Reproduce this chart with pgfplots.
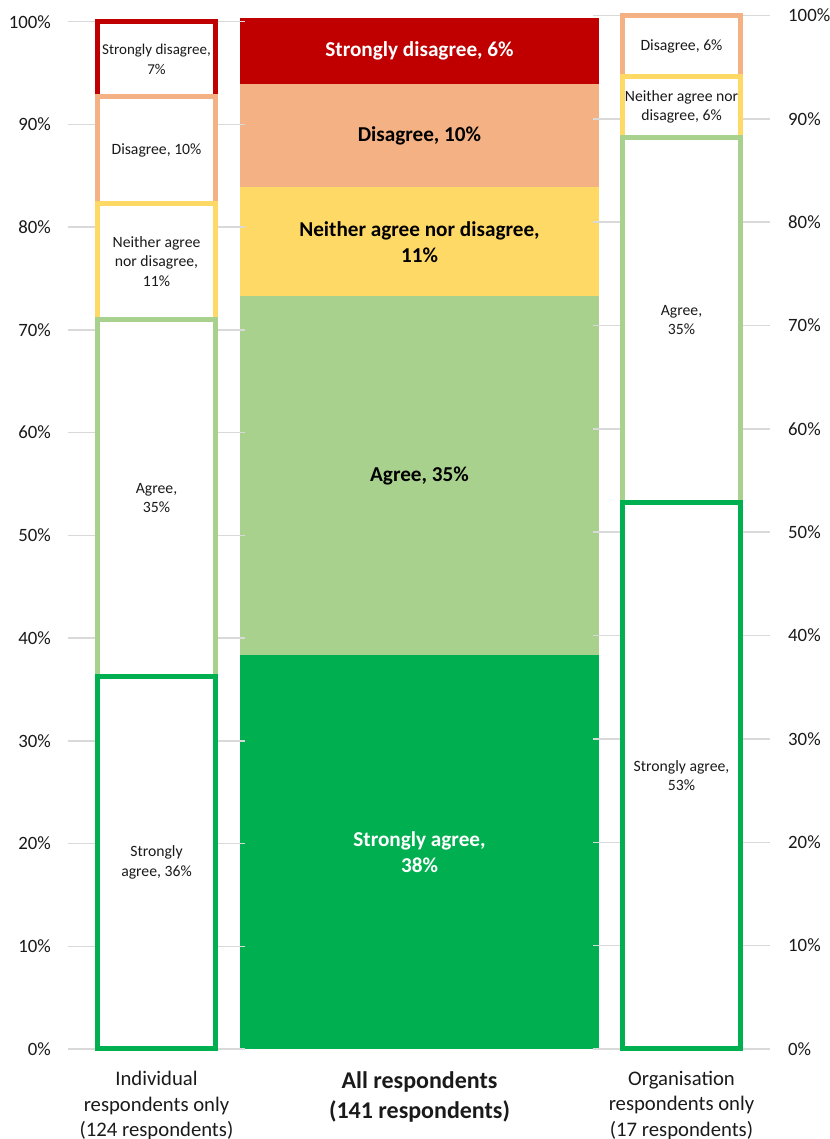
\documentclass[border=0pt]{standalone}
\usepackage{pgfplots}
\pgfplotsset{compat=1.18}
\usepackage{fontspec}
\setmainfont{Carlito}
\definecolor{csd}{HTML}{C00000}
\definecolor{cd}{HTML}{F4B183}
\definecolor{cn}{HTML}{FFD966}
\definecolor{ca}{HTML}{A9D18E}
\definecolor{csa}{HTML}{00B050}
\definecolor{gridgray}{HTML}{D9D9D9}
\definecolor{txt}{HTML}{1A1A1A}
\pgfplotsset{
  base/.style={scale only axis, anchor=south west, ymin=0, ymax=100,
    xtick=\empty, axis line style={draw=none}, tick style={draw=none},
    clip=false},
  pct/.style={ytick={0,10,...,100},
    yticklabels={0\%,10\%,20\%,30\%,40\%,50\%,60\%,70\%,80\%,90\%,100\%},
    ymajorgrids, grid style={color=gridgray, line width=1.5pt}},
  geomM/.style={base, at={(240pt,90pt)}, width=359pt, height=1031pt, xmin=240, xmax=599},
  geomL/.style={base, at={(68pt,90pt)}, width=177pt, height=1027.3pt, xmin=68, xmax=245},
  geomR/.style={base, at={(593pt,90pt)}, width=177pt, height=1033.5pt, xmin=593, xmax=770},
}
\newcommand{\barfont}{\fontsize{15.7}{19.5}\selectfont}
\newcommand{\midfont}{\fontsize{21.2}{26}\selectfont\bfseries}
\newcommand{\catfont}{\fontsize{20.7}{26}\selectfont}
\begin{document}
\begin{tikzpicture}
\path[use as bounding box] (0pt,0pt) rectangle (829pt,1139pt);

% ---------- middle bar: all respondents ----------
\begin{axis}[geomM, ybar stacked, bar width=359, ytick=\empty]
\addplot[fill=csa, draw=none] coordinates {(419.5,38.2)};
\addplot[fill=ca,  draw=none] coordinates {(419.5,34.8)};
\addplot[fill=cn,  draw=none] coordinates {(419.5,10.6)};
\addplot[fill=cd,  draw=none] coordinates {(419.5,10.0)};
\addplot[fill=csd, draw=none] coordinates {(419.5,6.4)};
\end{axis}
\begin{axis}[geomM, hide axis]
\node[font=\midfont, text=white, align=center, inner sep=0pt] at (axis cs:419.5,19.1) {Strongly agree,\\38\%};
\node[font=\midfont, text=black, align=center, inner sep=0pt] at (axis cs:419.5,55.6) {Agree, 35\%};
\node[font=\midfont, text=black, align=center, inner sep=0pt] at (axis cs:419.5,78.3) {Neither agree nor disagree,\\11\%};
\node[font=\midfont, text=black, align=center, inner sep=0pt] at (axis cs:419.5,88.6) {Disagree, 10\%};
\node[font=\midfont, text=white, align=center, inner sep=0pt] at (axis cs:419.5,96.8) {Strongly disagree, 6\%};
\node[font=\fontsize{24}{30}\selectfont\bfseries, text=txt, anchor=base, inner sep=0pt, yshift=-39pt] at (axis cs:419.5,0) {All respondents};
\node[font=\fontsize{24}{30}\selectfont\bfseries, text=txt, anchor=base, inner sep=0pt, yshift=-69pt] at (axis cs:419.5,0) {(141 respondents)};
\end{axis}

% ---------- left bar: individual respondents ----------
\begin{axis}[geomL, pct, ybar stacked, bar width=118,
  yticklabel style={font=\fontsize{18.8}{22}\selectfont, text=txt, anchor=east, inner sep=0pt, xshift=-17pt}]
\addplot[fill=white, draw=csa, line width=5pt] coordinates {(156.5,36.3)};
\addplot[fill=white, draw=ca,  line width=5pt] coordinates {(156.5,34.7)};
\addplot[fill=white, draw=cn,  line width=5pt] coordinates {(156.5,11.3)};
\addplot[fill=white, draw=cd,  line width=5pt] coordinates {(156.5,10.4)};
\addplot[fill=white, draw=csd, line width=5pt] coordinates {(156.5,7.3)};
\end{axis}
\begin{axis}[geomL, hide axis]
\node[font=\barfont, text=txt, align=center, inner sep=0pt] at (axis cs:156.5,18.15) {Strongly\\agree, 36\%};
\node[font=\barfont, text=txt, align=center, inner sep=0pt] at (axis cs:156.5,53.65) {Agree,\\35\%};
\node[font=\barfont, text=txt, align=center, inner sep=0pt] at (axis cs:156.5,76.65) {Neither agree\\nor disagree,\\11\%};
\node[font=\barfont, text=txt, align=center, inner sep=0pt] at (axis cs:156.5,87.5) {Disagree, 10\%};
\node[font=\fontsize{15}{19.5}\selectfont, text=txt, align=center, inner sep=0pt] at (axis cs:156.5,96.35) {Strongly disagree,\\7\%};
\node[font=\catfont, text=txt, anchor=base, inner sep=0pt, yshift=-37pt] at (axis cs:156.5,0) {Individual};
\node[font=\catfont, text=txt, anchor=base, inner sep=0pt, yshift=-62.5pt] at (axis cs:156.5,0) {respondents only};
\node[font=\catfont, text=txt, anchor=base, inner sep=0pt, yshift=-87.5pt] at (axis cs:156.5,0) {(124 respondents)};
\end{axis}

% ---------- right bar: organisation respondents ----------
\begin{axis}[geomR, pct, ybar stacked, bar width=118, yticklabel pos=right,
  yticklabel style={font=\fontsize{18.8}{22}\selectfont, text=txt, anchor=west, inner sep=0pt, xshift=18pt}]
\addplot[fill=white, draw=csa, line width=5pt] coordinates {(681.5,52.9)};
\addplot[fill=white, draw=ca,  line width=5pt] coordinates {(681.5,35.3)};
\addplot[fill=white, draw=cn,  line width=5pt] coordinates {(681.5,5.9)};
\addplot[fill=white, draw=cd,  line width=5pt] coordinates {(681.5,5.9)};
\end{axis}
\begin{axis}[geomR, hide axis]
\node[font=\barfont, text=txt, align=center, inner sep=0pt] at (axis cs:681.5,26.45) {Strongly agree,\\53\%};
\node[font=\barfont, text=txt, align=center, inner sep=0pt] at (axis cs:681.5,70.55) {Agree,\\35\%};
\node[font=\barfont, text=txt, align=center, inner sep=0pt] at (axis cs:681.5,91.15) {Neither agree nor\\disagree, 6\%};
\node[font=\barfont, text=txt, align=center, inner sep=0pt] at (axis cs:681.5,97.05) {Disagree, 6\%};
\node[font=\catfont, text=txt, anchor=base, inner sep=0pt, yshift=-36pt] at (axis cs:681.5,0) {Organisation};
\node[font=\catfont, text=txt, anchor=base, inner sep=0pt, yshift=-61.5pt] at (axis cs:681.5,0) {respondents only};
\node[font=\catfont, text=txt, anchor=base, inner sep=0pt, yshift=-87pt] at (axis cs:681.5,0) {(17 respondents)};
\end{axis}
\end{tikzpicture}
\end{document}
